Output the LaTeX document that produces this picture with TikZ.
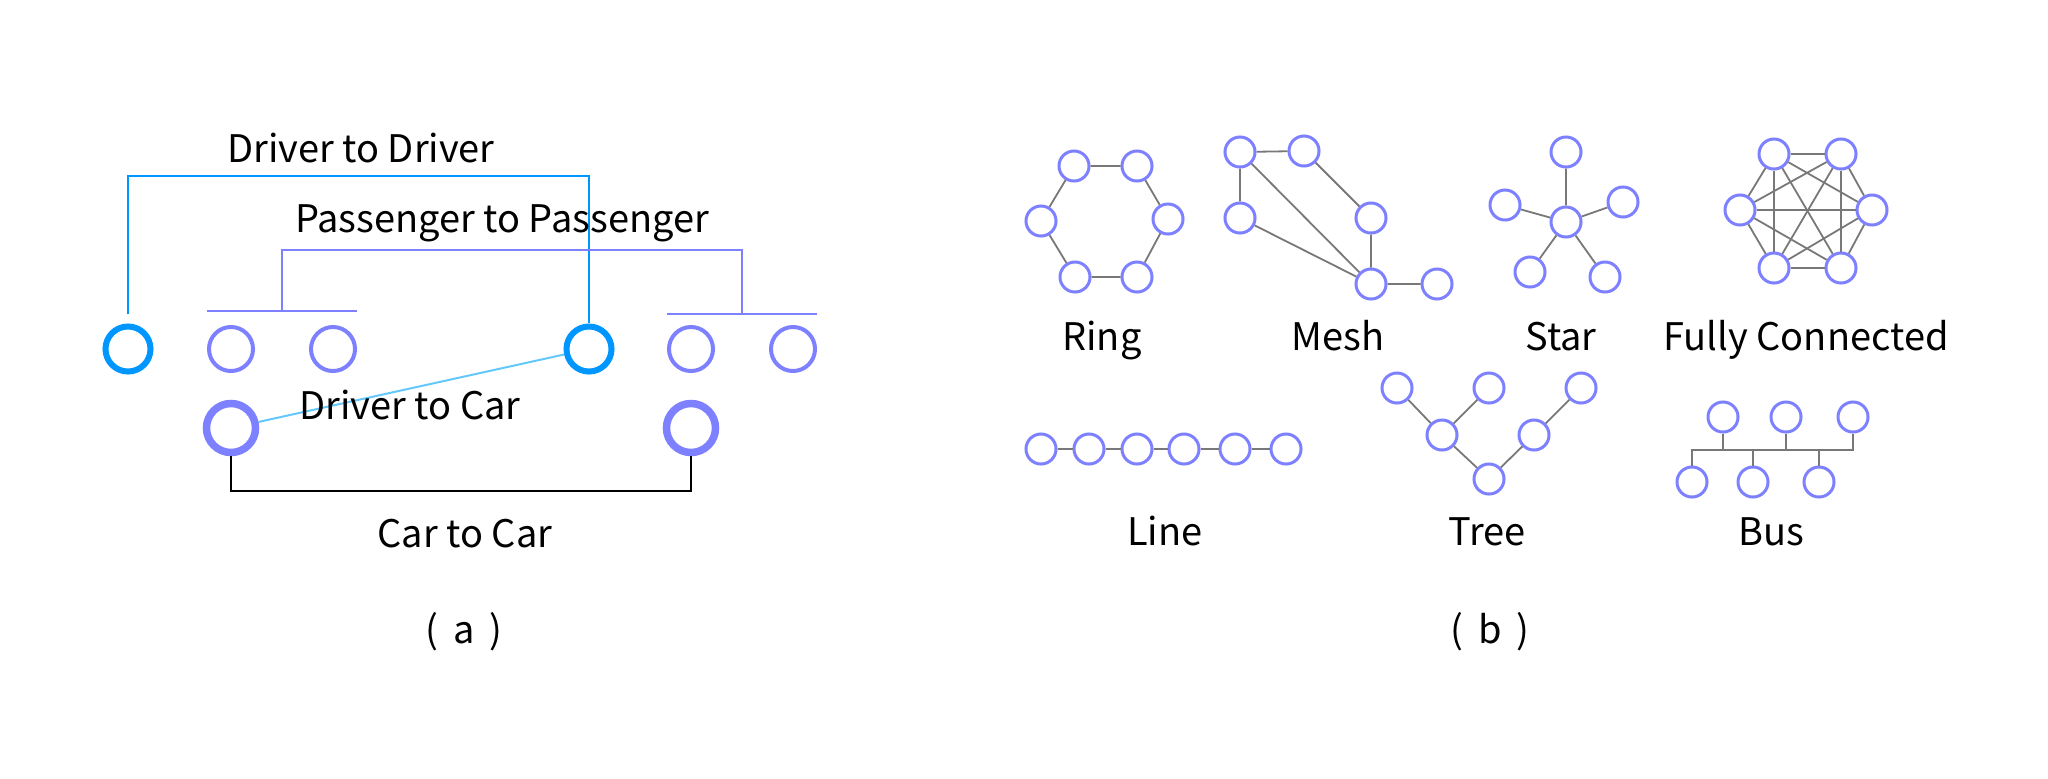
\documentclass[tikz,border=0pt]{standalone}
\usepackage{fontspec}
\setmainfont{Noto Sans CJK JP}
\usetikzlibrary{calc}

\definecolor{drvblue}{RGB}{0,150,255}
\definecolor{pasblue}{RGB}{125,128,255}
\definecolor{dclight}{RGB}{100,200,250}
\definecolor{lnkgray}{RGB}{120,120,120}

\tikzset{
  driver/.style={circle, draw=drvblue, line width=0.06cm, minimum size=0.45cm, inner sep=0pt},
  pass/.style={circle, draw=pasblue, line width=0.04cm, minimum size=0.44cm, inner sep=0pt},
  car/.style={circle, draw=pasblue, line width=0.075cm, minimum size=0.49cm, inner sep=0pt},
  topo/.style={circle, draw=pasblue, line width=0.03cm, minimum size=0.30cm, inner sep=0pt},
  lbl/.style={anchor=base, inner sep=0pt, font=\fontsize{10.8}{12}\selectfont},
  link/.style={draw=lnkgray, line width=0.018cm},
}

\begin{document}
\begin{tikzpicture}[x=0.01cm, y=-0.01cm]
    \useasboundingbox (0,0) rectangle (2048,778); % fix the margins

    % (a) drivers, passengers and cars
    \node[driver] (d1) at (128,349) {};
    \node[pass] (p1) at (231,349) {};
    \node[pass] (p2) at (333,349) {};
    \node[driver] (d2) at (589,349) {};
    \node[pass] (p3) at (691,349) {};
    \node[pass] (p4) at (793,349) {};
    \node[car] (c1) at (231,428) {};
    \node[car] (c2) at (691,428) {};

    % driver to driver
    \coordinate (ddtop) at (360,176);
    \draw[drvblue, line width=0.02cm] ($(d1.north)+(0,-9)$) |- (ddtop) -| (d2.north);
    % passenger to passenger
    \coordinate (pbarl) at ($(p1)!.5!(p2)+(0,-38)$);
    \coordinate (pbarr) at ($(p3)!.5!(p4)+(0,-35)$);
    \coordinate (pptop) at (500,250);
    \draw[pasblue, line width=0.02cm] ($(p1.west)+(0,-38)$) -- ($(p2.east)+(0,-38)$);
    \draw[pasblue, line width=0.02cm] ($(p3.west)+(0,-35)$) -- ($(p4.east)+(0,-35)$);
    \draw[pasblue, line width=0.02cm] (pbarl) |- (pptop) -| (pbarr);
    % driver to car
    \draw[dclight, line width=0.02cm] (c1) -- (d2);
    % car to car
    \coordinate (cctop) at (460,491);
    \draw[black, line width=0.022cm] (c1.south) |- (cctop) -| (c2.south);

    \node[lbl] (ddl) at (361,162) {Driver to Driver};
    \node[lbl] (ppl) at (502,232) {Passenger to Passenger};
    \node[lbl] (dcl) at (410,419) {Driver to Car};
    \node[lbl] (ccl) at (465,547) {Car to Car};
    \node[lbl] (capa) at (464,643) {(\hspace{0.4em}a\hspace{0.4em})};

    % (b) ring
    \node[topo] (r1) at (1074,166) {};
    \node[topo] (r2) at (1137,166) {};
    \node[topo] (r3) at (1041,221) {};
    \node[topo] (r4) at (1168,219) {};
    \node[topo] (r5) at (1075,277) {};
    \node[topo] (r6) at (1137,277) {};
    \draw[link] (r1) -- (r2) -- (r4) -- (r6) -- (r5) -- (r3) -- (r1);

    % mesh
    \node[topo] (m1) at (1240,152) {};
    \node[topo] (m2) at (1304,151) {};
    \node[topo] (m3) at (1240,218) {};
    \node[topo] (m4) at (1371,218) {};
    \node[topo] (m5) at (1371,284) {};
    \node[topo] (m6) at (1437,284) {};
    \draw[link] (m3) -- (m1) -- (m2) -- (m4) -- (m5) -- (m6);
    \draw[link] (m1) -- (m5) (m3) -- (m5);

    % star
    \node[topo] (s0) at (1566,222) {};
    \node[topo] (s1) at (1566,152) {};
    \node[topo] (s2) at (1505,205) {};
    \node[topo] (s3) at (1623,202) {};
    \node[topo] (s4) at (1530,272) {};
    \node[topo] (s5) at (1605,277) {};
    \draw[link] (s0) -- (s1) (s0) -- (s2) (s0) -- (s3) (s0) -- (s4) (s0) -- (s5);

    % fully connected
    \node[topo] (f1) at (1774,154) {};
    \node[topo] (f2) at (1841,154) {};
    \node[topo] (f3) at (1740,210) {};
    \node[topo] (f4) at (1872,210) {};
    \node[topo] (f5) at (1774,268) {};
    \node[topo] (f6) at (1841,268) {};
    \foreach \a in {1,...,5}{
      \pgfmathtruncatemacro\nxt{\a+1}
      \foreach \b in {\nxt,...,6}
        \draw[link] (f\a) -- (f\b);
    }

    % line
    \node[topo] (l1) at (1041,449) {};
    \node[topo] (l2) at (1089,449) {};
    \node[topo] (l3) at (1137,449) {};
    \node[topo] (l4) at (1184,449) {};
    \node[topo] (l5) at (1235,449) {};
    \node[topo] (l6) at (1286,449) {};
    \draw[link] (l1) -- (l2) -- (l3) -- (l4) -- (l5) -- (l6);

    % tree
    \node[topo] (t1) at (1397,388) {};
    \node[topo] (t2) at (1442,435) {};
    \node[topo] (t3) at (1489,388) {};
    \node[topo] (t4) at (1489,479) {};
    \node[topo] (t5) at (1534,435) {};
    \node[topo] (t6) at (1581,388) {};
    \draw[link] (t1) -- (t2) -- (t4) -- (t5) -- (t6) (t2) -- (t3);

    % bus
    \node[topo] (b1) at (1723,417) {};
    \node[topo] (b2) at (1786,417) {};
    \node[topo] (b3) at (1853,417) {};
    \node[topo] (b4) at (1692,482) {};
    \node[topo] (b5) at (1753,482) {};
    \node[topo] (b6) at (1819,482) {};
    \coordinate (bus) at (1770,450);
    \draw[link] (b4.north) |- (bus) -| (b3.south);
    \draw[link] (b1.south) -- (b1 |- bus) (b2.south) -- (b2 |- bus);
    \draw[link] (b5.north) -- (b5 |- bus) (b6.north) -- (b6 |- bus);

    \node[lbl] (ringl) at (1102,350) {Ring};
    \node[lbl] (meshl) at (1338,350) {Mesh};
    \node[lbl] (starl) at (1561,350) {Star};
    \node[lbl] (fulll) at (1806,350) {Fully Connected};
    \node[lbl] (linel) at (1165,545) {Line};
    \node[lbl] (treel) at (1487,545) {Tree};
    \node[lbl] (busl) at (1771,545) {Bus};
    \node[lbl] (capb) at (1490,643) {(\hspace{0.4em}b\hspace{0.4em})};
\end{tikzpicture}
\end{document}
